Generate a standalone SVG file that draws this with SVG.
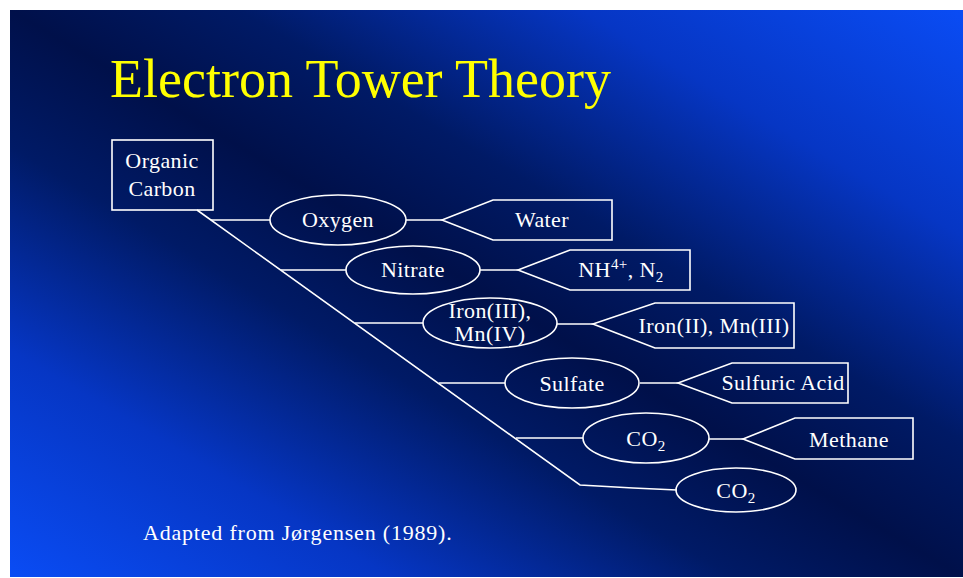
<svg xmlns="http://www.w3.org/2000/svg" width="963" height="578" viewBox="0 0 963 578">
<defs>
<linearGradient id="bg" x1="0" y1="1" x2="1" y2="0">
<stop offset="0" stop-color="#0a4cf4"/>
<stop offset="0.2" stop-color="#0636c4"/>
<stop offset="0.38" stop-color="#001a66"/>
<stop offset="0.5" stop-color="#00104a"/>
<stop offset="0.62" stop-color="#001a66"/>
<stop offset="0.8" stop-color="#0636c4"/>
<stop offset="1" stop-color="#0a4cf4"/>
</linearGradient>
<style>
.ln{fill:none;stroke:#ffffff;stroke-width:1.6}
.nd{fill:none;stroke:#ffffff;stroke-width:1.6}
.t{font-family:"Liberation Serif","Times New Roman",serif;font-size:22px;fill:#ffffff;text-anchor:middle;letter-spacing:0.4px}
.sub{font-size:15px}
</style>
</defs>
<rect x="0" y="0" width="963" height="578" fill="#ffffff"/>
<rect x="10" y="10" width="953" height="567" fill="url(#bg)"/>
<text x="110" y="97" font-family="'Liberation Serif','Times New Roman',serif" font-size="54" fill="#ffff00">Electron Tower Theory</text>

<g id="connectors">
<polyline class="ln" points="197,210 580,485 633,488 677,490"/>
<line class="ln" x1="211" y1="220" x2="270" y2="220"/>
<line class="ln" x1="281" y1="270" x2="346" y2="270"/>
<line class="ln" x1="355" y1="323" x2="423" y2="323"/>
<line class="ln" x1="439" y1="383" x2="505" y2="383"/>
<line class="ln" x1="516" y1="438" x2="583" y2="438"/>
<line class="ln" x1="406" y1="220" x2="442" y2="220"/>
<line class="ln" x1="480" y1="270" x2="518" y2="270"/>
<line class="ln" x1="557" y1="324" x2="593" y2="324"/>
<line class="ln" x1="640" y1="383" x2="678" y2="383"/>
<line class="ln" x1="709" y1="439" x2="743" y2="439"/>
</g>

<g id="organic-carbon">
<rect class="nd" x="112" y="140" width="101" height="70"/>
<text class="t" x="162" y="168">Organic</text>
<text class="t" x="162" y="196">Carbon</text>
</g>

<g id="oxygen">
<ellipse class="nd" cx="338" cy="220" rx="68" ry="25"/>
<text class="t" x="338" y="227">Oxygen</text>
</g>
<g id="nitrate">
<ellipse class="nd" cx="413" cy="270" rx="67" ry="24"/>
<text class="t" x="413" y="277">Nitrate</text>
</g>
<g id="iron-mn">
<ellipse class="nd" cx="490" cy="323" rx="67" ry="25"/>
<text class="t" x="490" y="318">Iron(III),</text>
<text class="t" x="490" y="341">Mn(IV)</text>
</g>
<g id="sulfate">
<ellipse class="nd" cx="572" cy="383" rx="67" ry="25"/>
<text class="t" x="572" y="391">Sulfate</text>
</g>
<g id="co2-a">
<ellipse class="nd" cx="646" cy="438" rx="63" ry="25"/>
<text class="t" x="646" y="446">CO<tspan class="sub" dy="5">2</tspan></text>
</g>
<g id="co2-b">
<ellipse class="nd" cx="736" cy="490" rx="60" ry="22"/>
<text class="t" x="736" y="498">CO<tspan class="sub" dy="5">2</tspan></text>
</g>

<g id="water">
<polygon class="nd" points="442,220 493,200 612,200 612,240 493,240"/>
<text class="t" x="542" y="227">Water</text>
</g>
<g id="nh4-n2">
<polygon class="nd" points="518,270 570,250 690,250 690,290 570,290"/>
<text class="t" x="621" y="277">NH<tspan class="sub" dy="-8">4+</tspan><tspan dy="8">, N</tspan><tspan class="sub" dy="5">2</tspan></text>
</g>
<g id="iron-ii">
<polygon class="nd" points="593,324 655,303 794,303 794,348 655,348"/>
<text class="t" x="714" y="333">Iron(II), Mn(III)</text>
</g>
<g id="sulfuric-acid">
<polygon class="nd" points="678,383 732,363 848,363 848,403 732,403"/>
<text class="t" x="783" y="390">Sulfuric Acid</text>
</g>
<g id="methane">
<polygon class="nd" points="743,439 795,418 913,418 913,459 795,459"/>
<text class="t" x="849" y="447">Methane</text>
</g>

<text x="143" y="540" font-family="'Liberation Serif','Times New Roman',serif" font-size="22" fill="#ffffff" letter-spacing="0.8">Adapted from Jørgensen (1989).</text>
</svg>
